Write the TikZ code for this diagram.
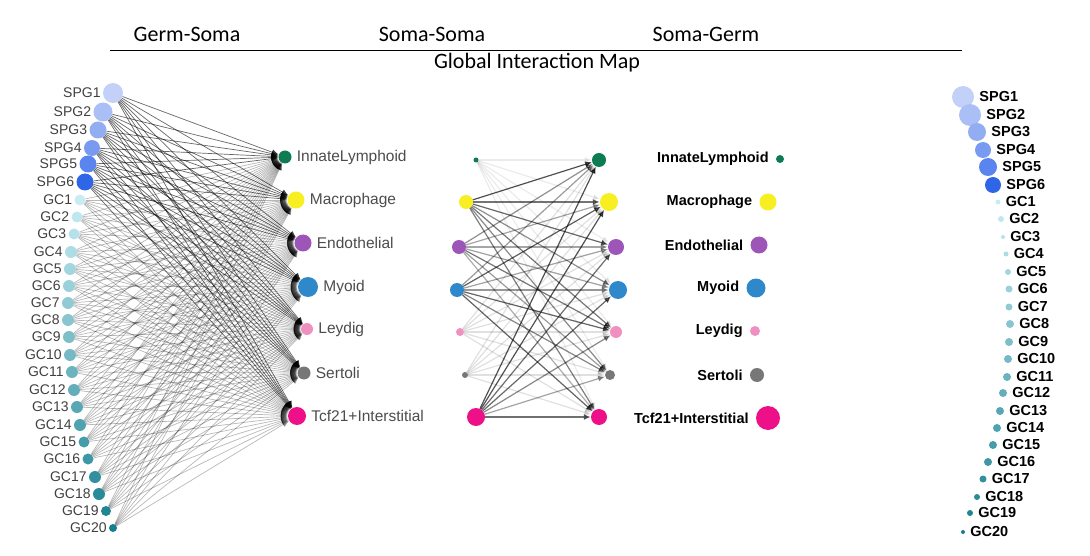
\documentclass[tikz,border=0pt]{standalone}
\usepackage{fontspec}
\setmainfont{Liberation Sans}
\newfontfamily\titlefont{Carlito}
\usetikzlibrary{arrows.meta}

\definecolor{spg1}{HTML}{C3D0F8}
\definecolor{spg2}{HTML}{AABFF5}
\definecolor{spg3}{HTML}{92ADF2}
\definecolor{spg4}{HTML}{789AF0}
\definecolor{spg5}{HTML}{5A85EE}
\definecolor{spg6}{HTML}{2F66E8}
\definecolor{gclight}{HTML}{C8ECF4}
\definecolor{gcdark}{HTML}{167F8E}
\definecolor{innate}{HTML}{0E7C52}
\definecolor{macro}{HTML}{F7EF22}
\definecolor{endo}{HTML}{9E55B8}
\definecolor{myoid}{HTML}{2F88C9}
\definecolor{leydig}{HTML}{F090C0}
\definecolor{sertoli}{HTML}{777777}
\definecolor{tcf}{HTML}{EE1088}

\tikzset{
  dot/.style={circle, inner sep=0pt, draw=none},
  header/.style={font=\titlefont\fontsize{22}{22}\selectfont},
  germlabel/.style={font=\fontsize{14}{14}\selectfont, text=black!75, inner sep=1pt},
  somalabel/.style={font=\fontsize{15.5}{15.5}\selectfont, text=black!70, inner sep=1pt},
  boldlabel/.style={font=\bfseries\fontsize{14.5}{14.5}\selectfont, text=black, inner sep=1pt},
  link/.style={-{Latex[length=7pt,width=6pt]}, line width=0.7pt, draw=black},
}

\begin{document}
\begin{tikzpicture}[x=1pt, y=-1pt]
\useasboundingbox (0,0) rectangle (1090,556);

% header
\node[header] (gs) at (187,34) {Germ-Soma};
\node[header] (ss) at (432,34) {Soma-Soma};
\node[header] (sg) at (706,34) {Soma-Germ};
\coordinate (hl) at (110,50);
\coordinate (hr) at (962,50);
\draw[line width=0.8pt] (hl) -- (hr);
\node[header] (map) at (537,63) {Global Interaction Map};

% germ cells, left
\foreach \i/\name/\x/\y/\r in {1/SPG1/113/93/10, 2/SPG2/103/112/9.5, 3/SPG3/98/130/8.5, 4/SPG4/92/148/8,
  5/SPG5/88/164/8.5, 6/SPG6/85/182/8.5, 7/GC1/80/200/5.5, 8/GC2/77/217/5.5, 9/GC3/74/234/5.5,
  10/GC4/71/252/6, 11/GC5/70/269/6, 12/GC6/69/286/6, 13/GC7/68/303/6, 14/GC8/68/320/6,
  15/GC9/69/337/6, 16/GC10/70/355/6, 17/GC11/72/372/6, 18/GC12/74/390/6, 19/GC13/77/407/6,
  20/GC14/80/425/6, 21/GC15/84/442/5.5, 22/GC16/88/459/5.5, 23/GC17/95/477/6, 24/GC18/99/494/6,
  25/GC19/106/511/5, 26/GC20/113/528/4}{
  \ifnum\i<7
    \node[dot, fill=spg\i, minimum size=2*\r] (g\i) at (\x,\y) {};
  \else
    \pgfmathtruncatemacro\p{(\i-7)*100/19}
    \node[dot, fill=gcdark!\p!gclight, minimum size=2*\r] (g\i) at (\x,\y) {};
  \fi
  \node[germlabel, anchor=east] (gl\i) at ([xshift=-1pt]g\i.west) {\name};
}

% soma cells, germ-soma
\foreach \j/\name/\col/\x/\y/\r in {1/InnateLymphoid/innate/285/157/6.5, 2/Macrophage/macro/296/200/8.5,
  3/Endothelial/endo/303/243/8.5, 4/Myoid/myoid/308/287/10, 5/Leydig/leydig/307/329/6,
  6/Sertoli/sertoli/304/373/6.5, 7/Tcf21+Interstitial/tcf/297/416/9}{
  \node[dot, fill=\col, minimum size=2*\r] (s\j) at (\x,\y) {};
  \node[somalabel, anchor=west] (sl\j) at ([xshift=4pt]s\j.east) {\name};
}

\foreach \i in {1,...,26}{
  \ifnum\i<7 \def\op{0.6}\else\def\op{0.28}\fi
  \foreach \j in {1,...,7}{
    \draw[link, draw opacity=\op, fill opacity=\op] (g\i) -- (s\j);
  }
}

% soma-soma, senders
\foreach \j/\col/\x/\y/\r in {1/innate/476/160/2.5, 2/macro/466/202/7, 3/endo/459/247/7,
  4/myoid/457/290/7, 5/leydig/460/332/4, 6/sertoli/465/375/3, 7/tcf/476/417/9}{
  \node[dot, fill=\col, minimum size=2*\r] (a\j) at (\x,\y) {};
}
% soma-soma, receivers
\foreach \j/\col/\x/\y/\r in {1/innate/599/160/7, 2/macro/609/202/9, 3/endo/616/247/8,
  4/myoid/618/290/9, 5/leydig/616/332/6, 6/sertoli/610/375/5, 7/tcf/599/417/8}{
  \node[dot, fill=\col, minimum size=2*\r] (b\j) at (\x,\y) {};
}
\pgfmathsetseed{7}
\foreach \j in {1,...,7}{
  \foreach \k in {1,...,7}{
    \pgfmathsetmacro\w{rnd}
    \ifnum\j=1 \pgfmathsetmacro\op{0.08}\else
    \ifnum\j=5 \pgfmathsetmacro\op{0.12}\else
    \ifnum\j=6 \pgfmathsetmacro\op{0.12}\else
    \pgfmathsetmacro\op{0.3+0.4*\w}\fi\fi\fi
    \draw[link, line width=1.2pt, draw opacity=\op, fill opacity=\op] (a\j) -- (b\k);
  }
}

% soma-germ, soma labels
\foreach \j/\name/\col/\x/\y/\r in {1/InnateLymphoid/innate/780/159/4, 2/Macrophage/macro/768/202/8.5,
  3/Endothelial/endo/759/245/8.5, 4/Myoid/myoid/756/288/9.5, 5/Leydig/leydig/755/331/5,
  6/Sertoli/sertoli/757/375/7, 7/Tcf21+Interstitial/tcf/768/418/12}{
  \node[dot, fill=\col, minimum size=2*\r] (r\j) at (\x,\y) {};
  \node[boldlabel, anchor=east] (rl\j) at ([xshift=-6pt]r\j.west) {\name};
}

% germ cells, right
\foreach \i/\name/\x/\y/\r in {1/SPG1/963/97/11, 2/SPG2/970/115/11, 3/SPG3/977/132/9, 4/SPG4/983/150/8,
  5/SPG5/988/167/9, 6/SPG6/993/185/8, 7/GC1/998/202/2.5, 8/GC2/1001/219/3, 9/GC3/1003/237/2,
  10/GC4/1006/254/2.5, 11/GC5/1008/272/3, 12/GC6/1009/289/3.5, 13/GC7/1009/307/3.5, 14/GC8/1010/324/4,
  15/GC9/1009/342/4, 16/GC10/1008/359/4, 17/GC11/1007/377/4, 18/GC12/1003/393/4, 19/GC13/1000/411/4,
  20/GC14/997/428/4, 21/GC15/993/445/4, 22/GC16/988/462/4, 23/GC17/983/479/3.5, 24/GC18/977/497/3,
  25/GC19/970/513/3, 26/GC20/963/532/2}{
  \ifnum\i<7
    \node[dot, fill=spg\i, minimum size=2*\r] (h\i) at (\x,\y) {};
  \else
    \pgfmathtruncatemacro\p{(\i-7)*100/19}
    \node[dot, fill=gcdark!\p!gclight, minimum size=2*\r] (h\i) at (\x,\y) {};
  \fi
  \node[boldlabel, anchor=west] (hl\i) at ([xshift=4pt]h\i.east) {\name};
}
\end{tikzpicture}
\end{document}
